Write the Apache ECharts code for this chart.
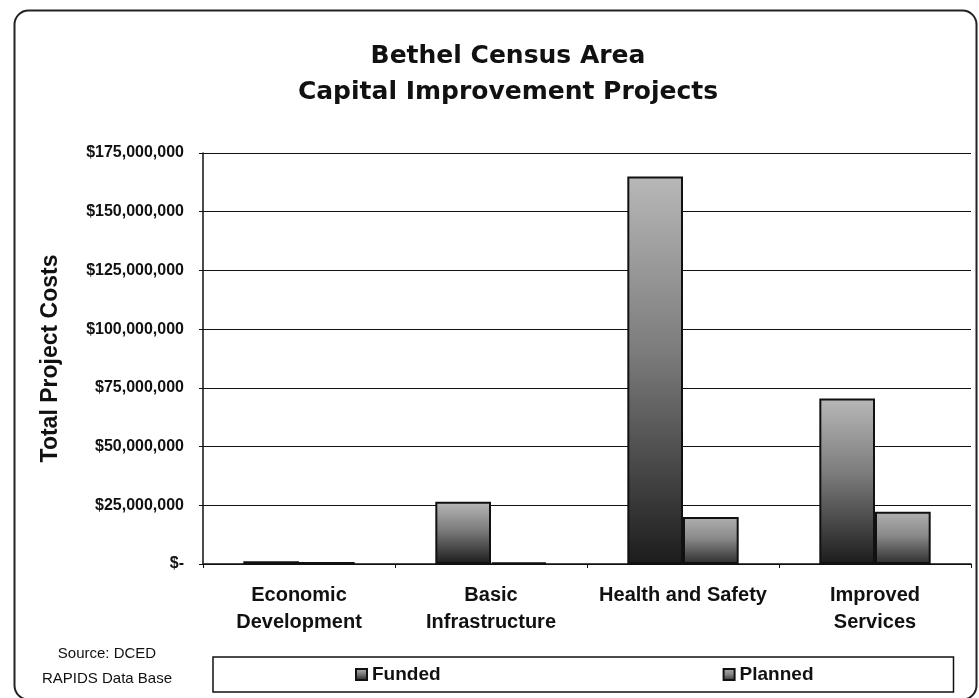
<!DOCTYPE html>
<html>
<head>
<meta charset="utf-8">
<script src="https://cdn.jsdelivr.net/npm/echarts@6/dist/echarts.min.js"></script>
<style>
  html, body { margin: 0; padding: 0; background: #fff; }
  #chart { width: 979px; height: 698px; }
</style>
</head>
<body>
<div id="chart"></div>
<script>
// categories and values (US dollars)
const categories = ["Economic\nDevelopment", "Basic\nInfrastructure", "Health and Safety", "Improved\nServices"];
const funded = [1200000, 26500000, 165000000, 70500000];
const planned = [900000, 600000, 20000000, 22300000];
const yTicks = [0, 25000000, 50000000, 75000000, 100000000, 125000000, 150000000, 175000000];

const chart = echarts.init(document.getElementById("chart"));

// bar fill, light grey on top fading to near black
function shade(top, mid, bottom) {
  return new echarts.graphic.LinearGradient(0, 0, 0, 1, [
    { offset: 0, color: top },
    { offset: 0.45, color: mid },
    { offset: 1, color: bottom },
  ]);
}

function money(v) {
  if (v === 0) return "$-";
  return "$" + v.toLocaleString("en-US");
}

const option = {
  backgroundColor: "#fff",
  animation: false,
  title: {
    text: "Bethel Census Area\nCapital Improvement Projects",
    left: 503,
    top: 33,
    textAlign: "center",
    textStyle: {
      fontFamily: "DejaVu Sans",
      fontWeight: "bold",
      fontSize: 25,
      lineHeight: 36,
      color: "#111",
    },
  },
  legend: {
    data: ["Funded", "Planned"],
    left: 213,
    top: 657,
    itemWidth: 11,
    itemHeight: 11,
    itemGap: 282,
    padding: [8, 140, 8, 142],
    borderColor: "#111",
    borderWidth: 1.5,
    icon: "rect",
    textStyle: {
      fontFamily: "Liberation Sans, Arial, sans-serif",
      fontWeight: "bold",
      fontSize: 19,
      color: "#111",
    },
  },
  grid: {
    left: 203,
    right: 8,
    top: 153,
    bottom: 134,
  },
  xAxis: {
    type: "category",
    data: categories,
    axisLine: { lineStyle: { color: "#111", width: 1.5 } },
    axisTick: { show: true, length: 4, lineStyle: { color: "#111" } },
    axisLabel: {
      interval: 0,
      margin: 18,
      lineHeight: 27,
      fontFamily: "Liberation Sans, Arial, sans-serif",
      fontWeight: "bold",
      fontSize: 20,
      color: "#111",
    },
  },
  yAxis: {
    type: "value",
    min: 0,
    max: yTicks[yTicks.length - 1],
    interval: yTicks[1] - yTicks[0],
    name: "Total Project Costs",
    nameLocation: "middle",
    nameGap: 141,
    nameTextStyle: {
      fontFamily: "Liberation Sans, Arial, sans-serif",
      fontWeight: "bold",
      fontSize: 23,
      color: "#111",
    },
    axisLine: { show: true, lineStyle: { color: "#111", width: 1.5 } },
    axisTick: { show: true, length: 4, lineStyle: { color: "#111" } },
    splitLine: { lineStyle: { color: "#111", width: 1 } },
    axisLabel: {
      margin: 19,
      formatter: money,
      fontFamily: "Liberation Sans, Arial, sans-serif",
      fontWeight: "bold",
      fontSize: 16,
      color: "#111",
    },
  },
  series: [
    {
      name: "Funded",
      type: "bar",
      data: funded,
      barGap: "0%",
      barCategoryGap: "42%",
      itemStyle: {
        color: shade("#b8b8b8", "#7c7c7c", "#1c1c1c"),
        borderColor: "#111",
        borderWidth: 2,
      },
    },
    {
      name: "Planned",
      type: "bar",
      data: planned,
      itemStyle: {
        color: shade("#b0b0b0", "#8a8a8a", "#2e2e2e"),
        borderColor: "#111",
        borderWidth: 2,
      },
    },
  ],
  graphic: [
    // outer rounded frame
    {
      type: "rect",
      left: 12,
      top: 8,
      shape: { width: 962, height: 689, r: 14 },
      style: { fill: null, stroke: "#222", lineWidth: 2 },
      silent: true,
    },
    {
      type: "text",
      style: {
        text: "Source: DCED\nRAPIDS Data Base",
        x: 107,
        y: 641,
        align: "center",
        lineHeight: 25,
        font: "15px 'Liberation Sans', Arial, sans-serif",
        fill: "#111",
      },
    },
  ],
};

chart.setOption(option);
</script>
</body>
</html>
